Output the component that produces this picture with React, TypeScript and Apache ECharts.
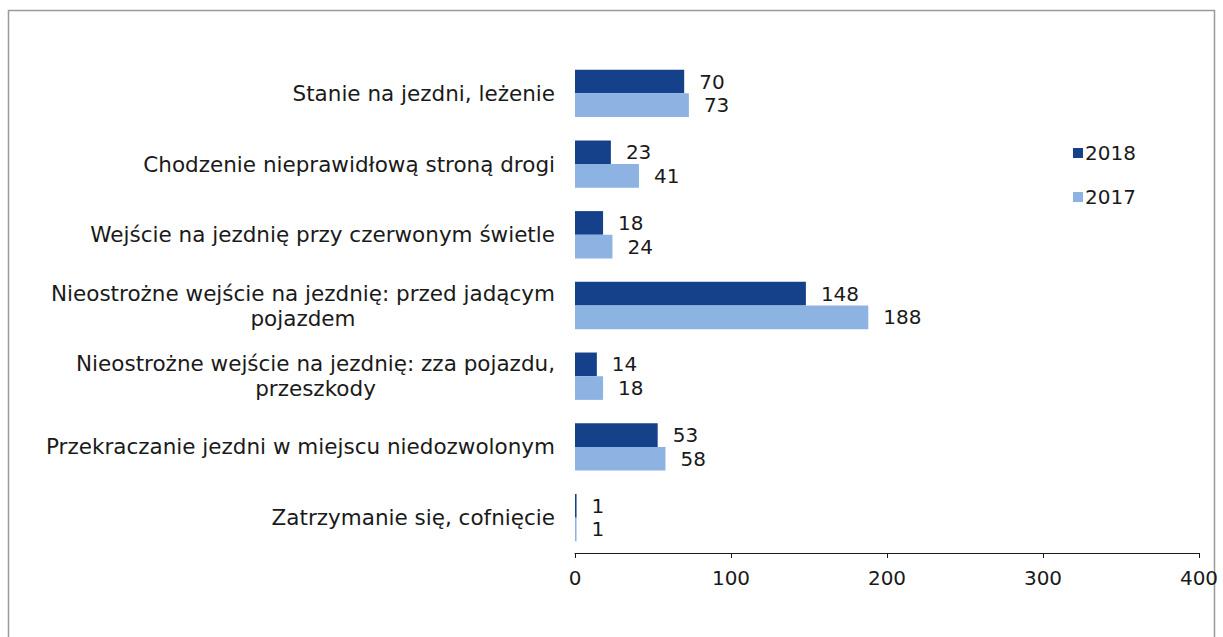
import React, { useEffect, useRef } from "react";
import * as echarts from "echarts";

const categories = [
  "Stanie na jezdni, leżenie",
  "Chodzenie nieprawidłową stroną drogi",
  "Wejście na jezdnię przy czerwonym świetle",
  "Nieostrożne wejście na jezdnię: przed jadącym\npojazdem",
  "Nieostrożne wejście na jezdnię: zza pojazdu,\nprzeszkody",
  "Przekraczanie jezdni w miejscu niedozwolonym",
  "Zatrzymanie się, cofnięcie",
];
const values2018 = [70, 23, 18, 148, 14, 53, 1];
const values2017 = [73, 41, 24, 188, 18, 58, 1];
const seriesNames = ["2018", "2017"];
const colors = ["#15408A", "#8DB3E2"];

const FONT = "DejaVu Sans";
const CAT_SIZE = 21.5;
const NUM_SIZE = 20;

export default function App() {
  const ref = useRef<HTMLDivElement>(null);
  useEffect(() => {
    if (!ref.current) return;
    const chart = echarts.init(ref.current, undefined, { renderer: "svg" });
    const label = {
      show: true,
      position: "right" as const,
      distance: 15,
      color: "#1a1a1a",
      fontFamily: FONT,
      fontSize: NUM_SIZE,
    };
    chart.setOption({
      animation: false,
      backgroundColor: "#ffffff",
      graphic: [
        {
          type: "rect",
          shape: { x: 8.5, y: 10.5, width: 1206, height: 640 },
          style: { fill: "none", stroke: "#9a9a9a", lineWidth: 1.5 },
          silent: true,
        },
      ],
      legend: {
        orient: "vertical",
        left: 1068,
        top: 138,
        itemWidth: 10,
        itemHeight: 10,
        itemGap: 24,
        icon: "rect",
        textStyle: { fontFamily: FONT, fontSize: NUM_SIZE, color: "#1a1a1a", padding: [0, 0, 0, -3] },
        data: seriesNames,
      },
      grid: { left: 575, right: 24, top: 58, bottom: 84, containLabel: false },
      xAxis: {
        type: "value",
        min: 0,
        max: 400,
        interval: 100,
        axisLine: { show: true, lineStyle: { color: "#1a1a1a", width: 1 } },
        axisTick: { show: true, length: 5, lineStyle: { color: "#1a1a1a" } },
        splitLine: { show: false },
        axisLabel: { fontFamily: FONT, fontSize: NUM_SIZE, color: "#1a1a1a", margin: 15 },
      },
      yAxis: {
        type: "category",
        inverse: true,
        data: categories,
        axisLine: { show: false },
        axisTick: { show: false },
        axisLabel: {
          fontFamily: FONT,
          fontSize: CAT_SIZE,
          color: "#1a1a1a",
          margin: 20,
          lineHeight: 25,
          formatter: (v: string) =>
            v
              .split("\n")
              .map((s) => `{c|${s}}`)
              .join("\n"),
          rich: { c: { align: "center", fontFamily: FONT, fontSize: CAT_SIZE, color: "#1a1a1a", lineHeight: 25 } },
        },
      },
      series: [
        {
          name: seriesNames[0],
          type: "bar",
          data: values2018,
          itemStyle: { color: colors[0] },
          barGap: "0%",
          barCategoryGap: "33%",
          label,
        },
        {
          name: seriesNames[1],
          type: "bar",
          data: values2017,
          itemStyle: { color: colors[1] },
          barGap: "0%",
          barCategoryGap: "33%",
          label,
        },
      ],
    });
    return () => chart.dispose();
  }, []);
  return (
    <div
      ref={ref}
      style={{ position: "absolute", left: 0, top: 0, width: 1223, height: 637 }}
    />
  );
}
